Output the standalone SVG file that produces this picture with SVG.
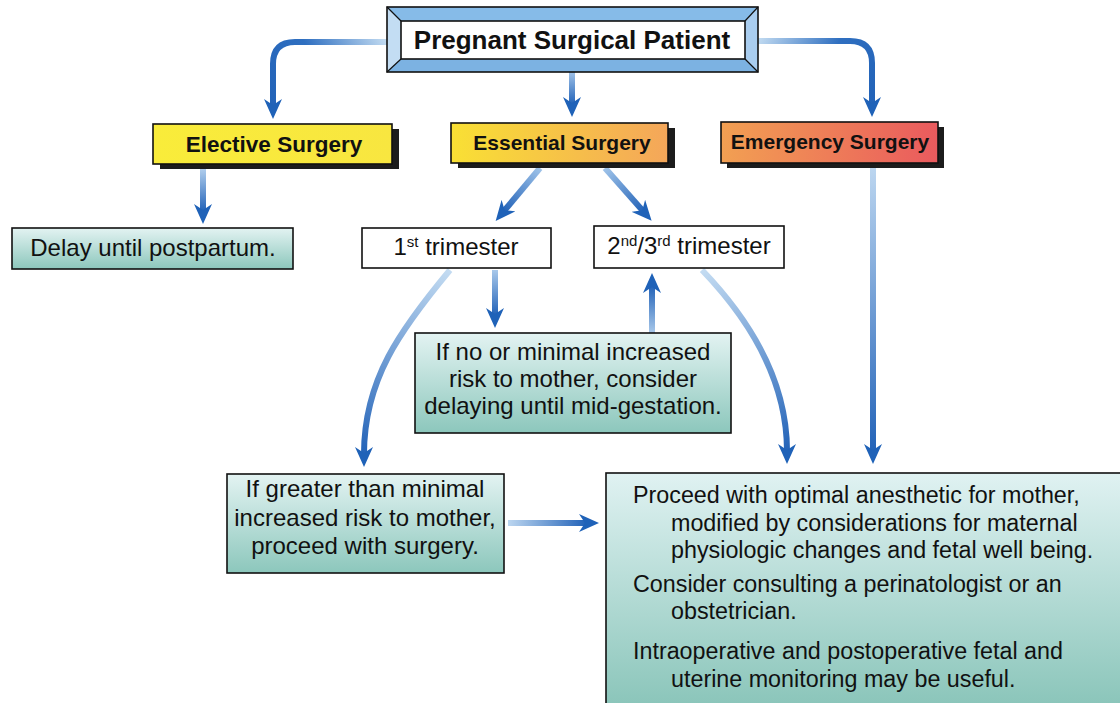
<svg xmlns="http://www.w3.org/2000/svg" width="1120" height="703" viewBox="0 0 1120 703">
<defs>
<style>
text{font-family:"Liberation Sans",Arial,sans-serif;fill:#111}
.b{font-weight:bold}
.bx{stroke:#111;stroke-width:1.6}
.tl{fill:url(#teal)}
.sh{fill:#1c1c1c}
.c{fill:none;stroke-width:6;marker-end:url(#ah)}
.lbl{font-size:21px;text-anchor:middle}
.lbl.big{font-size:22.5px}
.body{font-size:23.3px}
.sm{font-size:24px}
.mid{text-anchor:middle}
.sup{font-size:15px}
</style>
<marker id="ah" viewBox="0 0 20 18" refX="7" refY="9" markerWidth="20" markerHeight="18" markerUnits="userSpaceOnUse" orient="auto">
<path d="M0,0 L20,9 L0,18 L6,9 z" fill="#1f62b8"/>
</marker>
<linearGradient id="teal" x1="0" y1="0" x2="0" y2="1">
<stop offset="0" stop-color="#e3f3f2"/>
<stop offset="1" stop-color="#8cc7bc"/>
</linearGradient>
<linearGradient id="tealbig" x1="0" y1="0" x2="0" y2="1">
<stop offset="0" stop-color="#e0f2f2"/>
<stop offset="1" stop-color="#86c3b7"/>
</linearGradient>
<linearGradient id="yel" x1="0" y1="0" x2="1" y2="0">
<stop offset="0" stop-color="#f9ec3a"/>
<stop offset="1" stop-color="#f8e640"/>
</linearGradient>
<linearGradient id="ess" x1="0" y1="0" x2="1" y2="0">
<stop offset="0" stop-color="#f9e034"/>
<stop offset="1" stop-color="#f4a65a"/>
</linearGradient>
<linearGradient id="emg" x1="0" y1="0" x2="1" y2="0">
<stop offset="0" stop-color="#f2a052"/>
<stop offset="1" stop-color="#ea5a5e"/>
</linearGradient>
<linearGradient id="g1" gradientUnits="userSpaceOnUse" x1="387" y1="42" x2="273" y2="106"><stop offset="0" stop-color="#c2dbf1"/><stop offset="0.55" stop-color="#2f6fc0"/><stop offset="1" stop-color="#2363b8"/></linearGradient>
<linearGradient id="g2" gradientUnits="userSpaceOnUse" x1="0" y1="72" x2="0" y2="104"><stop offset="0" stop-color="#9fc2e8"/><stop offset="1" stop-color="#2363b8"/></linearGradient>
<linearGradient id="g3" gradientUnits="userSpaceOnUse" x1="757" y1="41" x2="872" y2="104"><stop offset="0" stop-color="#c2dbf1"/><stop offset="0.55" stop-color="#2f6fc0"/><stop offset="1" stop-color="#2363b8"/></linearGradient>
<linearGradient id="g4" gradientUnits="userSpaceOnUse" x1="0" y1="168" x2="0" y2="211"><stop offset="0" stop-color="#b3d0ee"/><stop offset="1" stop-color="#2363b8"/></linearGradient>
<linearGradient id="g5" gradientUnits="userSpaceOnUse" x1="540" y1="168" x2="504" y2="211"><stop offset="0" stop-color="#9fc3e9"/><stop offset="1" stop-color="#2363b8"/></linearGradient>
<linearGradient id="g6" gradientUnits="userSpaceOnUse" x1="605" y1="168" x2="643" y2="211"><stop offset="0" stop-color="#9fc3e9"/><stop offset="1" stop-color="#2363b8"/></linearGradient>
<linearGradient id="g7" gradientUnits="userSpaceOnUse" x1="0" y1="270" x2="0" y2="315"><stop offset="0" stop-color="#a8c8ea"/><stop offset="1" stop-color="#2363b8"/></linearGradient>
<linearGradient id="g8" gradientUnits="userSpaceOnUse" x1="0" y1="333" x2="0" y2="286"><stop offset="0" stop-color="#a8c8ea"/><stop offset="1" stop-color="#2363b8"/></linearGradient>
<linearGradient id="g9" gradientUnits="userSpaceOnUse" x1="450" y1="270" x2="364" y2="454"><stop offset="0" stop-color="#c4dcf2"/><stop offset="1" stop-color="#2363b8"/></linearGradient>
<linearGradient id="g10" gradientUnits="userSpaceOnUse" x1="702" y1="270" x2="787" y2="451"><stop offset="0" stop-color="#c4dcf2"/><stop offset="1" stop-color="#2363b8"/></linearGradient>
<linearGradient id="g11" gradientUnits="userSpaceOnUse" x1="0" y1="168" x2="0" y2="451"><stop offset="0" stop-color="#bcd6f0"/><stop offset="1" stop-color="#2363b8"/></linearGradient>
<linearGradient id="g12" gradientUnits="userSpaceOnUse" x1="508" y1="0" x2="586" y2="0"><stop offset="0" stop-color="#bcd6f0"/><stop offset="1" stop-color="#2363b8"/></linearGradient>
</defs>
<rect width="1120" height="703" fill="#ffffff"/>

<g id="connectors">
<path class="c" stroke="url(#g1)" d="M387,42 H295 Q273,42 273,64 V106"/>
<path class="c" stroke="url(#g2)" d="M572,72 V104"/>
<path class="c" stroke="url(#g3)" d="M757,41 H850 Q872,41 872,63 V104"/>
<path class="c" stroke="url(#g4)" d="M203,168 V211"/>
<path class="c" stroke="url(#g5)" d="M540,168 L504,211"/>
<path class="c" stroke="url(#g6)" d="M605,168 L643,211"/>
<path class="c" stroke="url(#g7)" d="M495,270 V315"/>
<path class="c" stroke="url(#g8)" d="M652,333 V286"/>
<path class="c" stroke="url(#g9)" d="M450,270 C400,330 364,380 364,454"/>
<path class="c" stroke="url(#g10)" d="M702,270 C750,320 787,380 787,451"/>
<path class="c" stroke="url(#g11)" d="M873,168 V451"/>
<path class="c" stroke="url(#g12)" d="M508,523 H586"/>
</g>

<g id="pregnant-surgical-patient">
<rect x="387" y="7" width="371" height="65" fill="#9cc6ec"/>
<polygon points="387,7 758,7 745,21 401,21" fill="#86bbe8"/>
<polygon points="387,7 401,21 401,59 387,72" fill="#c3ddf3"/>
<polygon points="758,7 745,21 745,59 758,72" fill="#a9cdef"/>
<polygon points="387,72 401,59 745,59 758,72" fill="#7cb2e2"/>
<line x1="387" y1="7" x2="401" y2="21" stroke="#111" stroke-width="1.2"/>
<line x1="758" y1="7" x2="745" y2="21" stroke="#111" stroke-width="1.2"/>
<line x1="387" y1="72" x2="401" y2="59" stroke="#111" stroke-width="1.2"/>
<line x1="758" y1="72" x2="745" y2="59" stroke="#111" stroke-width="1.2"/>
<rect class="bx" x="387" y="7" width="371" height="65" fill="none"/>
<rect class="bx" x="401" y="21" width="344" height="38" fill="#ffffff"/>
<text class="b" x="572" y="49" font-size="26" text-anchor="middle">Pregnant Surgical Patient</text>
</g>

<g id="elective-surgery">
<rect class="sh" x="160" y="129" width="239" height="40"/>
<rect class="bx" x="153" y="124" width="239" height="40" fill="url(#yel)"/>
<text class="b lbl big" x="274" y="152">Elective Surgery</text>
</g>

<g id="essential-surgery">
<rect class="sh" x="458" y="128" width="217" height="40"/>
<rect class="bx" x="451" y="123" width="217" height="40" fill="url(#ess)"/>
<text class="b lbl" x="562" y="150">Essential Surgery</text>
</g>

<g id="emergency-surgery">
<rect class="sh" x="727" y="127" width="217" height="41"/>
<rect class="bx" x="721" y="122" width="217" height="41" fill="url(#emg)"/>
<text class="b lbl" x="830" y="149">Emergency Surgery</text>
</g>

<g id="delay-until-postpartum">
<rect class="bx tl" x="12" y="228" width="281" height="41"/>
<text class="sm mid" x="153" y="256">Delay until postpartum.</text>
</g>

<g id="first-trimester">
<rect class="bx" x="362" y="228" width="189" height="40" fill="#ffffff"/>
<text class="sm mid" x="456" y="255">1<tspan class="sup" dy="-8">st</tspan><tspan dy="8"> trimester</tspan></text>
</g>

<g id="second-third-trimester">
<rect class="bx" x="594" y="226" width="190" height="42" fill="#ffffff"/>
<text class="sm mid" x="689" y="254">2<tspan class="sup" dy="-8">nd</tspan><tspan dy="8">/3</tspan><tspan class="sup" dy="-8">rd</tspan><tspan dy="8"> trimester</tspan></text>
</g>

<g id="minimal-risk-delay">
<rect class="bx tl" x="415" y="333" width="316" height="100"/>
<text class="sm mid" x="573" y="360">If no or minimal increased</text>
<text class="sm mid" x="573" y="387">risk to mother, consider</text>
<text class="sm mid" x="573" y="414">delaying until mid-gestation.</text>
</g>

<g id="greater-risk-proceed">
<rect class="bx tl" x="227" y="474" width="277" height="99"/>
<text class="sm mid" x="365" y="497">If greater than minimal</text>
<text class="sm mid" x="365" y="526">increased risk to mother,</text>
<text class="sm mid" x="365" y="554">proceed with surgery.</text>
</g>

<g id="proceed-optimal-anesthetic">
<rect class="bx" x="606" y="473" width="530" height="245" fill="url(#tealbig)"/>
<text class="body" x="633" y="503">Proceed with optimal anesthetic for mother,</text>
<text class="body" x="671" y="531">modified by considerations for maternal</text>
<text class="body" x="671" y="558">physiologic changes and fetal well being.</text>
<text class="body" x="633" y="592">Consider consulting a perinatologist or an</text>
<text class="body" x="671" y="619">obstetrician.</text>
<text class="body" x="633" y="659">Intraoperative and postoperative fetal and</text>
<text class="body" x="671" y="687">uterine monitoring may be useful.</text>
</g>
</svg>
